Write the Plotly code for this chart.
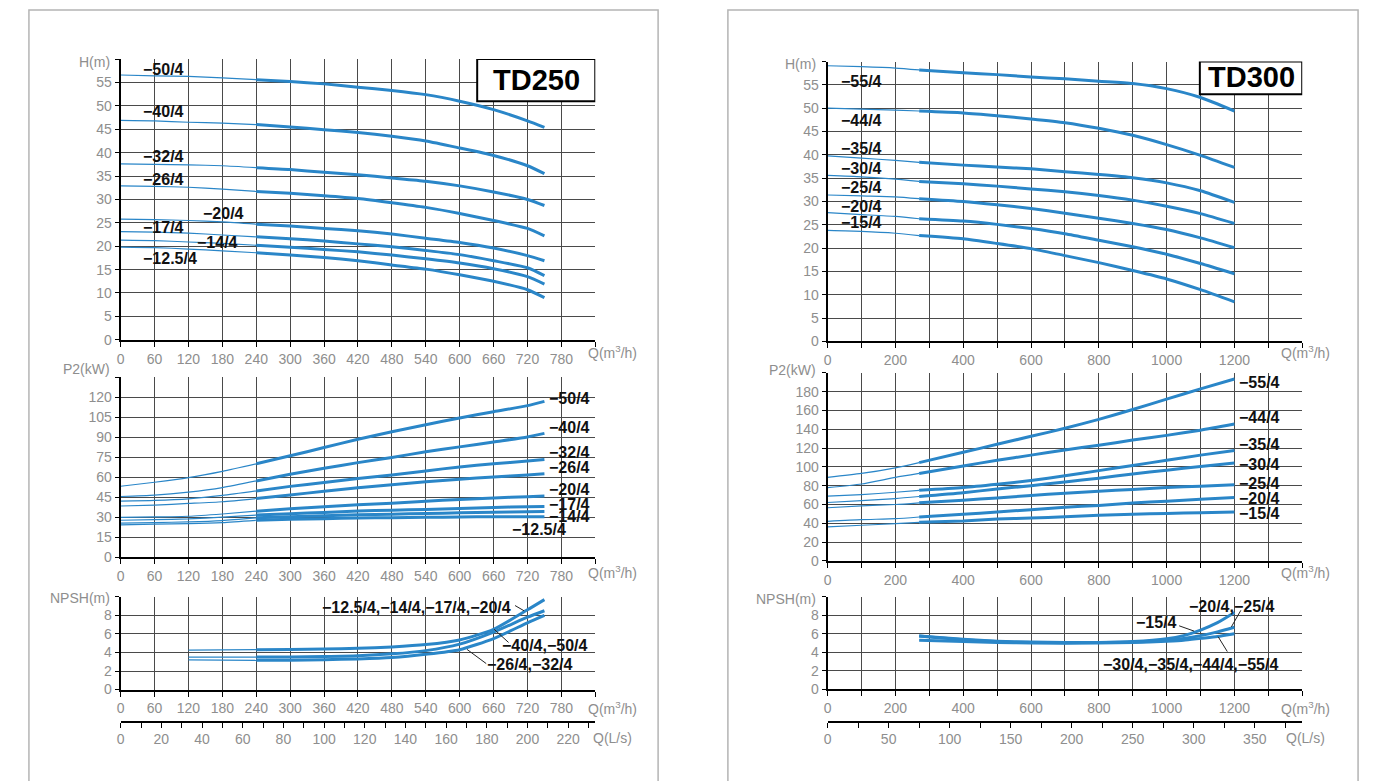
import plotly.graph_objects as go

W, H = 1380, 781
BLUE = "#2a86c8"
GRAY = "#8e8e8e"
GRID = "#4a4a4a"
FONT = "Liberation Sans, Arial, sans-serif"

# ------------------------------------------------------------------ TD250 data
Q250 = [0, 60, 120, 180, 240, 300, 360, 420, 480, 540, 600, 660, 720, 750]
SPLIT250 = 4  # thin line up to Q=240, thick afterwards
NAMES250 = ["−50/4", "−40/4", "−32/4", "−26/4", "−20/4", "−17/4", "−14/4", "−12.5/4"]

H250_50 = [56.6, 56.4, 56.3, 56.0, 55.6, 55.2, 54.7, 54.0, 53.3, 52.4, 51.0, 49.2, 46.8, 45.4]
H250_40 = [46.9, 46.8, 46.5, 46.3, 46.0, 45.5, 44.9, 44.3, 43.5, 42.5, 41.0, 39.4, 37.2, 35.5]
H250_32 = [37.6, 37.5, 37.4, 37.2, 36.8, 36.4, 35.8, 35.3, 34.6, 33.9, 32.9, 31.6, 30.0, 28.7]
H250_26 = [32.9, 32.8, 32.6, 32.2, 31.7, 31.3, 30.8, 30.2, 29.3, 28.3, 27.0, 25.5, 23.8, 22.2]
H250_20 = [25.8, 25.7, 25.5, 25.2, 24.7, 24.3, 23.8, 23.3, 22.6, 21.7, 20.8, 19.6, 18.0, 16.9]
H250_17 = [23.1, 23.0, 22.8, 22.4, 22.0, 21.6, 21.1, 20.5, 19.9, 19.1, 18.2, 16.9, 15.4, 13.7]
H250_14 = [21.3, 21.2, 20.9, 20.6, 20.2, 19.8, 19.3, 18.8, 18.1, 17.3, 16.4, 15.2, 13.5, 11.9]
H250_125 = [19.8, 19.7, 19.4, 19.0, 18.6, 18.1, 17.6, 16.9, 16.0, 15.1, 13.9, 12.5, 10.7, 9.0]

P250_50 = [53.2, 56.2, 59.7, 64.4, 70.0, 76.0, 82.2, 88.4, 94.1, 99.3, 104.4, 109.1, 113.6, 116.8]
P250_40 = [45.5, 46.5, 48.8, 52.2, 57.2, 62.2, 66.7, 70.9, 74.8, 79.0, 82.7, 86.4, 90.1, 92.8]
P250_32 = [42.1, 42.6, 43.8, 46.3, 49.7, 53.1, 56.0, 59.0, 61.7, 64.7, 67.7, 70.1, 72.1, 73.3]
P250_26 = [38.4, 39.1, 40.3, 41.6, 44.0, 46.7, 49.4, 52.1, 54.3, 56.5, 58.5, 60.2, 61.7, 62.5]
P250_20 = [29.8, 30.2, 30.7, 32.4, 34.5, 36.3, 37.8, 39.3, 40.5, 42.0, 43.2, 44.4, 45.4, 45.9]
P250_17 = [27.7, 28.2, 28.7, 30.0, 31.6, 32.6, 33.6, 34.6, 35.3, 35.8, 36.5, 37.3, 37.8, 38.0]
P250_14 = [25.5, 26.0, 26.5, 27.5, 29.5, 30.4, 31.1, 31.9, 32.3, 32.8, 33.3, 33.8, 34.1, 34.3]
P250_125 = [24.3, 24.8, 25.2, 26.0, 27.7, 28.4, 28.9, 29.4, 29.6, 29.9, 30.1, 30.4, 30.4, 30.4]

QN250 = [120, 240, 300, 360, 420, 480, 540, 600, 660, 720, 750]
SPLITN250 = 1
N250_A = [4.25, 4.3, 4.33, 4.38, 4.45, 4.6, 4.85, 5.35, 6.5, 8.6, 9.7]   # -12.5/4 .. -20/4
N250_B = [3.5, 3.5, 3.52, 3.57, 3.65, 3.85, 4.2, 4.9, 6.2, 7.8, 8.5]     # -40/4, -50/4
N250_C = [3.2, 3.15, 3.17, 3.22, 3.3, 3.45, 3.8, 4.3, 5.5, 7.2, 8.0]     # -26/4, -32/4

# label positions (data units)
LBL_H250_Q = [37, 37, 37, 37, 143.5, 37, 133, 37]
LBL_H250_H = [57.8, 48.7, 39.1, 34.3, 27.0, 24.1, 20.8, 17.4]
LBL_P250_Q = [756, 756, 756, 756, 756, 756, 756, 690]
LBL_P250_P = [119.3, 97.5, 78.5, 67.4, 50.9, 39.5, 30.4, 21.0]
LBL_N250_TEXT = ["−12.5/4,−14/4,−17/4,−20/4", "−40/4,−50/4", "−26/4,−32/4"]
LBL_N250_Q = [523.6, 751, 725]
LBL_N250_N = [8.88, 4.8, 2.74]
LEAD_N250 = [(698, 9.06, 714, 8.49), (661, 6.5, 686.5, 5.08), (613, 4.33, 647, 2.8)]

# ------------------------------------------------------------------ TD300 data
Q300 = [0, 100, 200, 270, 400, 500, 600, 700, 800, 900, 1000, 1100, 1200]
SPLIT300 = 3  # thin up to Q=270
NAMES300 = ["−55/4", "−44/4", "−35/4", "−30/4", "−25/4", "−20/4", "−15/4"]

H300_55 = [59.1, 58.9, 58.6, 58.2, 57.6, 57.2, 56.7, 56.3, 55.8, 55.3, 54.2, 52.3, 49.4]
H300_44 = [50.0, 49.8, 49.6, 49.4, 49.0, 48.4, 47.7, 46.9, 45.7, 44.2, 42.2, 39.9, 37.3]
H300_35 = [39.8, 39.3, 38.8, 38.4, 37.8, 37.4, 37.0, 36.4, 35.8, 35.1, 34.0, 32.3, 29.8]
H300_30 = [35.6, 35.3, 34.8, 34.3, 33.8, 33.3, 32.7, 32.1, 31.3, 30.3, 29.0, 27.4, 25.3]
H300_25 = [31.4, 31.2, 31.0, 30.6, 30.0, 29.3, 28.5, 27.5, 26.4, 25.3, 24.0, 22.2, 20.1]
H300_20 = [27.6, 27.2, 26.8, 26.3, 25.8, 25.1, 24.2, 23.1, 21.7, 20.3, 18.7, 16.7, 14.5]
H300_15 = [23.8, 23.6, 23.2, 22.7, 22.0, 21.0, 19.9, 18.4, 16.9, 15.2, 13.4, 11.1, 8.5]

P300_55 = [88.8, 93.0, 99.0, 104.5, 115.5, 124.0, 132.5, 141.0, 150.5, 161.0, 172.0, 183.0, 193.5]
P300_44 = [77.9, 81.8, 88.8, 93.0, 101.0, 107.0, 112.5, 118.0, 123.0, 128.5, 133.5, 139.0, 145.5]
P300_35 = [68.8, 70.5, 73.0, 75.0, 78.0, 81.5, 85.5, 90.5, 96.0, 101.5, 107.0, 112.5, 117.5]
P300_30 = [62.1, 64.2, 66.3, 68.5, 72.5, 76.5, 80.0, 84.0, 88.0, 92.5, 96.5, 100.5, 104.0]
P300_25 = [56.5, 58.6, 60.0, 61.8, 64.5, 67.0, 69.5, 72.0, 74.0, 76.0, 78.0, 79.5, 81.0]
P300_20 = [42.1, 43.9, 44.9, 46.7, 49.5, 52.0, 54.5, 57.0, 59.0, 61.5, 63.5, 65.5, 67.5]
P300_15 = [36.1, 37.9, 39.6, 41.0, 42.5, 44.5, 45.5, 47.0, 48.5, 49.5, 50.5, 51.3, 52.0]

QN300 = [270, 400, 500, 600, 700, 800, 900, 1000, 1050, 1100, 1150, 1200]
N300_A = [5.75, 5.35, 5.15, 5.05, 5.02, 5.05, 5.15, 5.45, 5.8, 6.4, 7.2, 8.3]   # -15/4
N300_B = [5.75, 5.4, 5.2, 5.1, 5.05, 5.05, 5.1, 5.3, 5.5, 5.8, 6.2, 6.7]      # -20/4, -25/4
N300_C = [5.3, 5.15, 5.05, 5.0, 4.98, 5.0, 5.05, 5.2, 5.3, 5.5, 5.7, 6.0]     # -30/4 .. -55/4

LBL_H300_Q = [36] * 7
LBL_H300_H = [55.7, 47.3, 41.3, 37.0, 33.0, 29.0, 25.4]
LBL_P300_Q = [1211] * 7
LBL_P300_P = [189.8, 153.0, 123.9, 102.0, 82.0, 66.3, 50.5]
LBL_N300_TEXT = ["−20/4,−25/4", "−15/4", "−30/4,−35/4,−44/4,−55/4"]
LBL_N300_Q = [1194, 970.6, 1071.6]
LBL_N300_N = [9.0, 7.2, 2.71]
LEAD_N300 = [(1219, 8.54, 1191, 6.75), (1037, 6.86, 1081, 6.29), (1179, 4.07, 1152, 5.68)]

# ------------------------------------------------------------------ ticks
QT250 = list(range(0, 841, 60))
QT250_TXT = [str(v) for v in QT250[:-1]] + [""]
LS250 = list(range(0, 231, 10))
LS250_TXT = [str(v) if v % 20 == 0 else "" for v in LS250]
QT300 = list(range(0, 1401, 100))
QT300_TXT = [str(v) if v % 200 == 0 and v < 1400 else "" for v in QT300]
LS300 = list(range(0, 376, 25))
LS300_TXT = [str(v) if v % 50 == 0 else "" for v in LS300]


def px(x):
    return x / W


def py(y):
    return 1 - y / H


fig = go.Figure()


def add_curves(xa, ya, q, series, split, thin=1.2, thick=3.0):
    for v in series:
        if split > 0:
            fig.add_trace(go.Scatter(x=q[:split + 1], y=v[:split + 1], xaxis=xa, yaxis=ya,
                                     mode="lines", line=dict(color=BLUE, width=thin, shape="spline", smoothing=0.6),
                                     hoverinfo="skip", showlegend=False))
        fig.add_trace(go.Scatter(x=q[split:], y=v[split:], xaxis=xa, yaxis=ya,
                                 mode="lines", line=dict(color=BLUE, width=thick, shape="spline", smoothing=0.6),
                                 hoverinfo="skip", showlegend=False))


add_curves("x", "y", Q250, [H250_50, H250_40, H250_32, H250_26, H250_20, H250_17, H250_14, H250_125], SPLIT250)
add_curves("x2", "y2", Q250, [P250_50, P250_40, P250_32, P250_26, P250_20, P250_17, P250_14, P250_125], SPLIT250)
add_curves("x3", "y3", QN250, [N250_A, N250_B, N250_C], SPLITN250)
add_curves("x5", "y5", Q300, [H300_55, H300_44, H300_35, H300_30, H300_25, H300_20, H300_15], SPLIT300)
add_curves("x6", "y6", Q300, [P300_55, P300_44, P300_35, P300_30, P300_25, P300_20, P300_15], SPLIT300)
add_curves("x7", "y7", QN300, [N300_A, N300_B, N300_C], 0)
# dummy traces so the L/s axes are drawn
for xa, ya in (("x4", "y4"), ("x8", "y8")):
    fig.add_trace(go.Scatter(x=[None], y=[None], xaxis=xa, yaxis=ya, mode="lines", showlegend=False))

tickfont = dict(family=FONT, size=14, color=GRAY)


def xaxis(domain, anchor, rng, vals, txt, grid=True):
    return dict(domain=domain, anchor=anchor, range=rng, tickmode="array", tickvals=vals, ticktext=txt,
                showgrid=grid, gridcolor=GRID, gridwidth=1, showline=True, linecolor="black", linewidth=2,
                ticks="outside", ticklen=5, tickcolor="black", tickwidth=1, tickfont=tickfont,
                zeroline=False, fixedrange=True)


def yaxis(domain, anchor, rng, step, top_blank=True):
    vals = []
    v = 0
    while v <= rng[1] + 1e-9:
        vals.append(v)
        v += step
    txt = [("%g" % t) for t in vals]
    if top_blank:
        txt[-1] = ""
    return dict(domain=domain, anchor=anchor, range=rng, tickmode="array", tickvals=vals, ticktext=txt,
                showgrid=True, gridcolor=GRID, gridwidth=1, showline=True, linecolor="black", linewidth=2,
                ticks="outside", ticklen=4, tickcolor="black", tickwidth=1, tickfont=tickfont,
                zeroline=False, fixedrange=True)


LX = [px(117), px(593)]
RX = [px(826), px(1302)]

fig.update_layout(
    width=W, height=H, margin=dict(l=0, r=0, t=0, b=0, pad=0),
    paper_bgcolor="white", plot_bgcolor="white", showlegend=False,
    font=dict(family=FONT),
    xaxis=xaxis(LX, "y", [0, 840], QT250, QT250_TXT),
    yaxis=yaxis([py(343.3), py(59.7)], "x", [0, 60], 5),
    xaxis2=xaxis(LX, "y2", [0, 840], QT250, QT250_TXT),
    yaxis2=yaxis([py(563), py(381)], "x2", [0, 135], 15),
    xaxis3=xaxis(LX, "y3", [0, 840], QT250, QT250_TXT),
    yaxis3=yaxis([py(696.7), py(603)], "x3", [0, 10], 2),
    xaxis4=xaxis(LX, "y4", [0, 840 / 3.6], LS250, LS250_TXT, grid=False),
    yaxis4=dict(domain=[py(728), py(726)], anchor="x4", range=[0, 1], visible=False, fixedrange=True),
    xaxis5=xaxis(RX, "y5", [0, 1400], QT300, QT300_TXT),
    yaxis5=yaxis([py(345), py(62.2)], "x5", [0, 60], 5),
    xaxis6=xaxis(RX, "y6", [0, 1400], QT300, QT300_TXT),
    yaxis6=yaxis([py(566.7), py(376.7)], "x6", [0, 200], 20),
    xaxis7=xaxis(RX, "y7", [0, 1400], QT300, QT300_TXT),
    yaxis7=yaxis([py(696.3), py(603)], "x7", [0, 10], 2),
    xaxis8=xaxis(RX, "y8", [0, 1400 / 3.6], LS300, LS300_TXT, grid=False),
    yaxis8=dict(domain=[py(728), py(726)], anchor="x8", range=[0, 1], visible=False, fixedrange=True),
)

shapes = []
annotations = []
# panel frames
for x0, x1 in ((25, 656), (726, 1358)):
    shapes.append(dict(type="rect", xref="paper", yref="paper", x0=px(x0), x1=px(x1), y0=py(790), y1=py(10),
                       line=dict(color="#b4b4b4", width=1.5), fillcolor="rgba(0,0,0,0)", layer="below"))
# title boxes
shapes.append(dict(type="rect", xref="x", yref="y", x0=631, x1=840, y0=51, y1=60,
                   line=dict(color="black", width=2), fillcolor="white", layer="above"))
shapes.append(dict(type="rect", xref="x5", yref="y5", x0=1098, x1=1400, y0=53, y1=60,
                   line=dict(color="black", width=2), fillcolor="white", layer="above"))
annotations.append(dict(xref="x", yref="y", x=735.5, y=55.6, text="<b>TD250</b>", showarrow=False,
                        font=dict(family=FONT, size=29, color="black")))
annotations.append(dict(xref="x5", yref="y5", x=1249, y=56.6, text="<b>TD300</b>", showarrow=False,
                        font=dict(family=FONT, size=29, color="black")))

lblfont = dict(family=FONT, size=16, color="#111111")


def add_labels(xr, yr, names, xs, ys, anchor="left"):
    for n, x, y in zip(names, xs, ys):
        annotations.append(dict(xref=xr, yref=yr, x=x, y=y, text="<b>%s</b>" % n, showarrow=False,
                                xanchor=anchor, yanchor="middle", font=lblfont, borderpad=0))


add_labels("x", "y", NAMES250, LBL_H250_Q, LBL_H250_H)
add_labels("x2", "y2", NAMES250, LBL_P250_Q, LBL_P250_P)
add_labels("x3", "y3", LBL_N250_TEXT, LBL_N250_Q, LBL_N250_N, "center")
add_labels("x5", "y5", NAMES300, LBL_H300_Q, LBL_H300_H)
add_labels("x6", "y6", NAMES300, LBL_P300_Q, LBL_P300_P)
add_labels("x7", "y7", LBL_N300_TEXT, LBL_N300_Q, LBL_N300_N, "center")

for xr, yr, leads in (("x3", "y3", LEAD_N250), ("x7", "y7", LEAD_N300)):
    for x0, y0, x1, y1 in leads:
        shapes.append(dict(type="line", xref=xr, yref=yr, x0=x0, y0=y0, x1=x1, y1=y1,
                           line=dict(color="#222222", width=1), layer="above"))

# axis titles
titlefont = dict(family=FONT, size=14, color=GRAY)
for txt, xr, yc in (("H(m)", 108, 63), ("P2(kW)", 108, 373), ("NPSH(m)", 108, 604),
                    ("H(m)", 816, 65), ("P2(kW)", 816, 374), ("NPSH(m)", 816, 605)):
    annotations.append(dict(xref="paper", yref="paper", x=px(xr), y=py(yc), text=txt, showarrow=False,
                            xanchor="right", yanchor="middle", font=titlefont))
for txt, xl, yc in (("Q(m<sup>3</sup>/h)", 584, 356), ("Q(m<sup>3</sup>/h)", 584, 578), ("Q(m<sup>3</sup>/h)", 584, 715),
                    ("Q(L/s)", 589, 746),
                    ("Q(m<sup>3</sup>/h)", 1279, 356), ("Q(m<sup>3</sup>/h)", 1279, 578),
                    ("Q(m<sup>3</sup>/h)", 1279, 715), ("Q(L/s)", 1284, 746)):
    annotations.append(dict(xref="paper", yref="paper", x=px(xl), y=py(yc), text=txt, showarrow=False,
                            xanchor="left", yanchor="middle", font=titlefont))

fig.update_layout(shapes=shapes, annotations=annotations)
fig.write_html("out.html", config={"displayModeBar": False, "staticPlot": True})
